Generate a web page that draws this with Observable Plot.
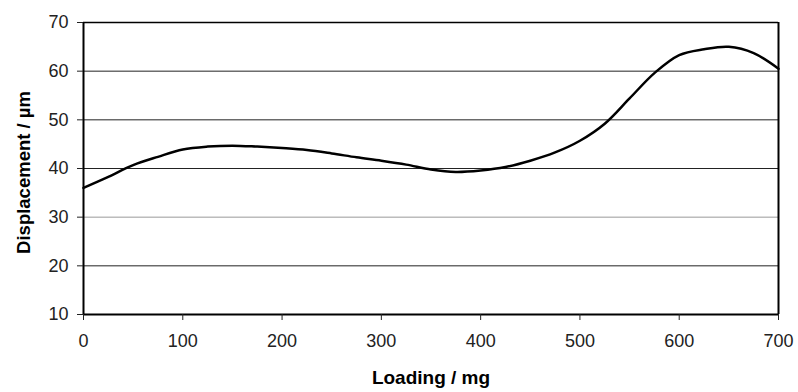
<!DOCTYPE html>
<html><head><meta charset="utf-8">
<script src="https://cdn.jsdelivr.net/npm/d3@7"></script>
<script src="https://cdn.jsdelivr.net/npm/@observablehq/plot@0.6"></script>
<style>body{margin:0;background:#fff}</style>
</head><body><div id="chart"></div>
<script>
const loading = [0, 25, 50, 75, 100, 125, 150, 175, 200, 225, 250, 275, 300, 325, 350, 375, 400, 425, 450, 475, 500, 525, 550, 575, 600, 625, 650, 675, 700];
const displacement = [36.0, 38.3, 40.7, 42.4, 43.9, 44.5, 44.7, 44.5, 44.2, 43.8, 43.1, 42.3, 41.6, 40.8, 39.8, 39.3, 39.6, 40.3, 41.6, 43.3, 45.7, 49.2, 54.4, 59.6, 63.3, 64.5, 65.0, 63.7, 60.5];
const xTicks = [0, 100, 200, 300, 400, 500, 600, 700];
const yTicks = [10, 20, 30, 40, 50, 60, 70];
const gridDark = [20, 40, 50, 60];
const gridLight = [30];
const xLabel = "Loading / mg";
const yLabel = "Displacement / µm";

const data = loading.map((x, i) => ({x, y: displacement[i]}));

const chart = Plot.plot({
  width: 798, height: 392,
  marginLeft: 83, marginRight: 20, marginTop: 22, marginBottom: 78,
  style: {fontFamily: "'Liberation Sans', Arial, sans-serif", background: "#fff", overflow: "visible"},
  x: {domain: [0, 700]},
  y: {domain: [10, 70]},
  marks: [
    Plot.ruleY(gridDark, {stroke: "#222", strokeWidth: 1}),
    Plot.ruleY(gridLight, {stroke: "#999", strokeWidth: 1}),
    Plot.ruleY([70], {stroke: "#000", strokeWidth: 1.5}),
    Plot.ruleX([700], {stroke: "#000", strokeWidth: 2}),
    Plot.ruleX([0], {stroke: "#000", strokeWidth: 2}),
    Plot.ruleY([10], {stroke: "#000", strokeWidth: 2}),
    Plot.axisX({ticks: xTicks, tickSize: 6, tickPadding: 14, fontSize: 18, label: null, color: "#222"}),
    Plot.axisY({ticks: yTicks, tickSize: 6, tickPadding: 9, fontSize: 18, label: null, color: "#222"}),
    Plot.line(data, {x: "x", y: "y", curve: "catmull-rom", stroke: "#000", strokeWidth: 2.5}),
    Plot.text([xLabel], {text: d => d, frameAnchor: "bottom", textAnchor: "middle", dy: 69, fontWeight: "bold", fontSize: 19, fill: "#000", style: "letter-spacing:0.5px"}),
    Plot.text([yLabel], {text: d => d, frameAnchor: "left", textAnchor: "middle", lineAnchor: "middle", rotate: -90, dx: -59, dy: 4, fontWeight: "bold", fontSize: 18.5, fill: "#000"})
  ]
});
document.getElementById("chart").appendChild(chart);
</script>
</body></html>
